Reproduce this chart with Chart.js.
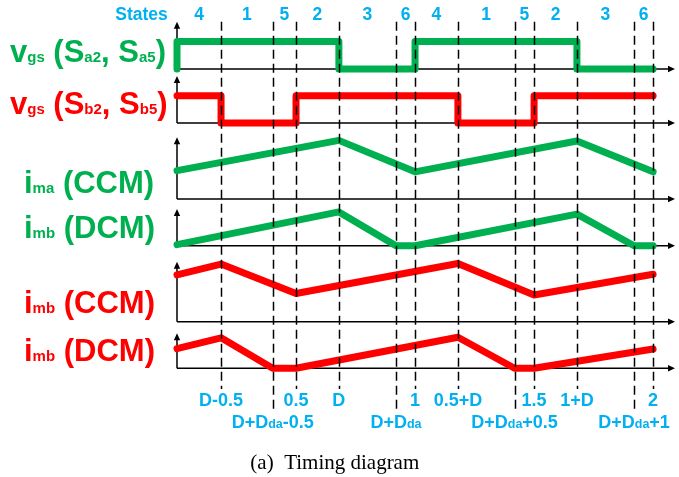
<!DOCTYPE html>
<html><head><meta charset="utf-8">
<script src="https://cdn.jsdelivr.net/npm/chart.js@4.4.0/dist/chart.umd.min.js"></script>
<style>html,body{margin:0;padding:0;background:#fff;overflow:hidden}canvas{display:block}</style>
</head><body>
<canvas id="c" width="679" height="477"></canvas>
<script>
// ---------- data ----------
const stateNames = ['4','1','5','2','3','6','4','1','5','2','3','6'];
const xTickValues = [0.185, 0.402, 0.5, 0.68, 0.92, 1.0, 1.18, 1.418, 1.5, 1.68, 1.92, 2.0];
const xTickLabels = ['D-0.5','D+D{da}-0.5','0.5','D','D+D{da}','1','0.5+D','D+D{da}+0.5','1.5','1+D','D+D{da}+1','2'];
const xTickRows   = [1,2,1,1,2,1,1,2,1,1,2,1];
const panelLabels = ['v{gs} (S{a2}, S{a5})','v{gs} (S{b2}, S{b5})','i{ma} (CCM)','i{mb} (DCM)','i{mb} (CCM)','i{mb} (DCM)'];

const vgsA_t = [0, 0, 0.68, 0.68, 1.0, 1.0, 1.68, 1.68, 2.0];
const vgsA_v = [0, 0.58, 0.58, 0, 0, 0.58, 0.58, 0, 0];
const vgsB_t = [0, 0.185, 0.185, 0.5, 0.5, 1.18, 1.18, 1.5, 1.5, 2.0];
const vgsB_v = [0.58, 0.58, 0, 0, 0.58, 0.58, 0, 0, 0.58, 0.58];
const imaCCM_t = [0, 0.68, 1.0, 1.68, 2.0];
const imaCCM_v = [0.46, 0.95, 0.44, 0.94, 0.44];
const imbDCMg_t = [0, 0.68, 0.92, 1.0, 1.68, 1.92, 2.0];
const imbDCMg_v = [0.03, 0.92, 0, 0, 0.86, 0, 0];
const imbCCM_t = [0, 0.185, 0.5, 1.18, 1.5, 2.0];
const imbCCM_v = [0.78, 0.96, 0.47, 0.97, 0.445, 0.79];
const imbDCMr_t = [0, 0.185, 0.402, 0.5, 1.18, 1.418, 1.5, 2.0];
const imbDCMr_v = [0.56, 0.87, 0, 0, 0.886, 0, 0, 0.55];

// ---------- styles / layout ----------
const GREEN = '#00B050', RED = '#FF0000', BLUE = '#00B0F0';
const SANS = '"Liberation Sans", Arial, sans-serif';
const SERIF = '"Liberation Serif", "Times New Roman", serif';
const AREA_TOP = 20, AREA_BOTTOM = 380;
// pixel positions of each panel's arrow tip and baseline, plus label placement
const panels = [
  {tip: 21.7,  base: 69,    color: GREEN, lx: 10, ly: 61.5},
  {tip: 76,    base: 123,   color: RED,   lx: 10, ly: 114},
  {tip: 137.3, base: 199,   color: GREEN, lx: 24, ly: 192.5},
  {tip: 209,   base: 245.7, color: GREEN, lx: 24, ly: 238},
  {tip: 261.7, base: 321.7, color: RED,   lx: 24, ly: 313},
  {tip: 333.3, base: 368.3, color: RED,   lx: 24, ly: 360.5}
];
const seriesT = [vgsA_t, vgsB_t, imaCCM_t, imbDCMg_t, imbCCM_t, imbDCMr_t];
const seriesV = [vgsA_v, vgsB_v, imaCCM_v, imbDCMg_v, imbCCM_v, imbDCMr_v];

const scales = { x: {type: 'linear', min: 0, max: 2.092, display: false} };
panels.forEach((p, i) => {
  const u = p.base - p.tip;
  scales['y' + i] = {type: 'linear', display: false,
    min: (p.base - AREA_BOTTOM) / u, max: (p.base - AREA_TOP) / u};
});

const datasets = panels.map((p, i) => ({
  data: seriesT[i].map((t, k) => ({x: t, y: seriesV[i][k]})),
  yAxisID: 'y' + i,
  borderColor: p.color,
  backgroundColor: p.color,
  borderWidth: 7,
  borderCapStyle: 'round',
  borderJoinStyle: 'round',
  pointRadius: 0,
  tension: 0,
  fill: false,
  clip: false
}));

function parseRich(str) {
  const out = [];
  str.split(/(\{[^}]*\})/).forEach(s => {
    if (!s) return;
    if (s[0] === '{') out.push({t: s.slice(1, -1), sub: true});
    else out.push({t: s, sub: false});
  });
  return out;
}
function drawRich(ctx, str, x, y, size, subSize, color, align, weight, subDy) {
  const segs = parseRich(str);
  const fontMain = weight + ' ' + size + 'px ' + SANS;
  const fontSub = weight + ' ' + subSize + 'px ' + SANS;
  let w = 0;
  segs.forEach(s => { ctx.font = s.sub ? fontSub : fontMain; s.w = ctx.measureText(s.t).width; w += s.w; });
  let cx = align === 'center' ? x - w / 2 : (align === 'right' ? x - w : x);
  ctx.fillStyle = color;
  ctx.textAlign = 'left';
  ctx.textBaseline = 'alphabetic';
  segs.forEach(s => {
    ctx.font = s.sub ? fontSub : fontMain;
    ctx.fillText(s.t, cx, s.sub ? y + subDy : y);
    cx += s.w;
  });
}

const deco = {
  id: 'deco',
  beforeDatasetsDraw(chart) {
    const ctx = chart.ctx, xs = chart.scales.x;
    const x0 = xs.getPixelForValue(0), xE = xs.getPixelForValue(xs.max);
    ctx.save();
    ctx.strokeStyle = '#000'; ctx.fillStyle = '#000'; ctx.lineWidth = 1.5;
    panels.forEach((p, i) => {
      const ys = chart.scales['y' + i];
      const y0 = ys.getPixelForValue(0), yT = ys.getPixelForValue(1);
      ctx.beginPath();
      ctx.moveTo(x0, y0); ctx.lineTo(x0, yT + 5);
      ctx.moveTo(x0, y0); ctx.lineTo(xE - 5, y0);
      ctx.stroke();
      ctx.beginPath();
      ctx.moveTo(x0, yT); ctx.lineTo(x0 - 3.2, yT + 7); ctx.lineTo(x0 + 3.2, yT + 7); ctx.closePath();
      ctx.fill();
      ctx.beginPath();
      ctx.moveTo(xE, y0); ctx.lineTo(xE - 7, y0 - 3.2); ctx.lineTo(xE - 7, y0 + 3.2); ctx.closePath();
      ctx.fill();
    });
    ctx.restore();
  },
  afterDatasetsDraw(chart) {
    const ctx = chart.ctx, xs = chart.scales.x;
    const topY = chart.scales.y0.getPixelForValue(1);
    ctx.save();
    // dashed state boundaries
    ctx.strokeStyle = '#000'; ctx.lineWidth = 1.5; ctx.setLineDash([9, 5]);
    xTickValues.forEach((v, i) => {
      const x = Math.round(xs.getPixelForValue(v)) + 0.5;
      ctx.beginPath();
      ctx.moveTo(x, topY);
      ctx.lineTo(x, xTickRows[i] === 1 ? 389 : 410);
      ctx.stroke();
    });
    ctx.setLineDash([]);
    // tick labels
    xTickValues.forEach((v, i) => {
      const x = xs.getPixelForValue(v);
      drawRich(ctx, xTickLabels[i], x, xTickRows[i] === 1 ? 406 : 428, 18, 12.5, BLUE, 'center', 'bold', 0);
    });
    // states
    ctx.font = 'bold 17.5px ' + SANS; ctx.fillStyle = BLUE; ctx.textAlign = 'center'; ctx.textBaseline = 'alphabetic';
    ctx.fillText('States', 141.5, 19.5);
    const bounds = [0].concat(xTickValues);
    stateNames.forEach((s, i) => {
      const x = xs.getPixelForValue((bounds[i] + bounds[i + 1]) / 2);
      ctx.fillText(s, x, 19.5);
    });
    // panel labels
    panels.forEach((p, i) => {
      drawRich(ctx, panelLabels[i], p.lx, p.ly, 31, 15, p.color, 'left', 'bold', 0);
    });
    // caption
    ctx.font = '21px ' + SERIF; ctx.fillStyle = '#000'; ctx.textAlign = 'center';
    ctx.fillText('(a)  Timing diagram', 334.8, 469);
    ctx.restore();
  }
};

new Chart(document.getElementById('c'), {
  type: 'line',
  data: {datasets},
  options: {
    responsive: false,
    animation: false,
    devicePixelRatio: 1,
    layout: {padding: {left: 177, right: 4, top: AREA_TOP, bottom: 477 - AREA_BOTTOM}},
    scales,
    plugins: {legend: {display: false}, tooltip: {enabled: false}, title: {display: false}}
  },
  plugins: [deco]
});
</script>
</body></html>
